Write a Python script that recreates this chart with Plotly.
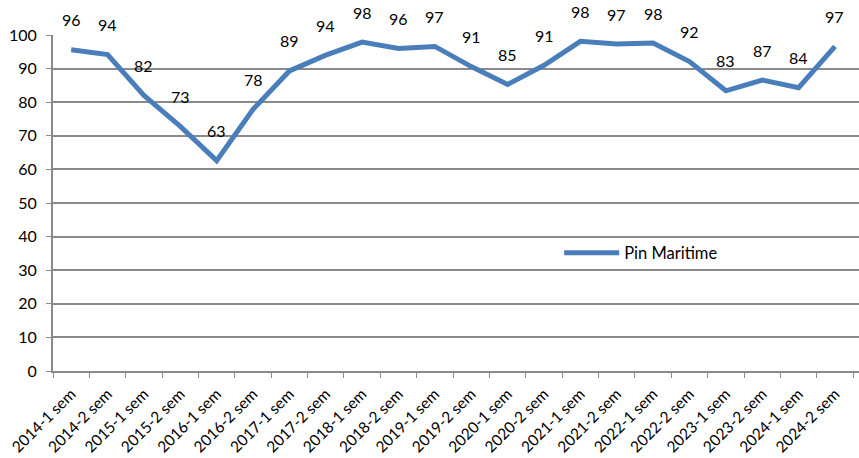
import plotly.graph_objects as go

periods = ['2014-1 sem', '2014-2 sem', '2015-1 sem', '2015-2 sem', '2016-1 sem', '2016-2 sem',
           '2017-1 sem', '2017-2 sem', '2018-1 sem', '2018-2 sem', '2019-1 sem', '2019-2 sem',
           '2020-1 sem', '2020-2 sem', '2021-1 sem', '2021-2 sem', '2022-1 sem', '2022-2 sem',
           '2023-1 sem', '2023-2 sem', '2024-1 sem', '2024-2 sem']
pin_maritime = [95.6, 94.2, 82.0, 72.8, 62.6, 77.9, 89.3, 94.0, 97.9, 96.0, 96.6, 90.6,
                85.3, 91.0, 98.1, 97.3, 97.6, 92.1, 83.4, 86.6, 84.3, 96.6]
labels = [str(int(round(v))) for v in pin_maritime]

font_family = 'Lato, Noto Sans, sans-serif'
grid_col = '#8a8a8a'

fig = go.Figure()
fig.add_trace(go.Scatter(x=periods, y=pin_maritime, mode='lines', name='Pin Maritime',
                         line=dict(color='#4a7ebb', width=5)))

# data labels sitting above each point
for p, v, t in zip(periods, pin_maritime, labels):
    fig.add_annotation(x=p, y=v, text=t, showarrow=False, yshift=30,
                       font=dict(size=16, color='black', family=font_family))

fig.update_layout(
    width=859, height=458,
    margin=dict(l=53, r=0, t=35, b=87, autoexpand=False),
    plot_bgcolor='white', paper_bgcolor='white',
    font=dict(family=font_family, size=15, color='black'),
    showlegend=True,
    legend=dict(x=0.628, y=0.351, xanchor='left', yanchor='middle', bgcolor='rgba(0,0,0,0)',
                itemwidth=55, font=dict(size=16.5)),
)
# plot area runs slightly past the right edge in the original
fig.update_xaxes(type='category', range=[-0.5, 21.66], tickson='boundaries', ticks='outside',
                 ticklen=5, tickcolor=grid_col, tickangle=-45, showline=True, linecolor=grid_col,
                 linewidth=2, showgrid=False, tickfont=dict(size=15.5), ticklabelstandoff=6,
                 automargin=False)
fig.update_yaxes(range=[0, 100], dtick=10, ticks='outside', ticklen=5, tickcolor=grid_col,
                 showline=True, linecolor=grid_col, linewidth=2, showgrid=True, gridcolor=grid_col,
                 gridwidth=1.5, zeroline=False, tickfont=dict(size=16), ticklabelstandoff=6,
                 automargin=False)

fig.write_html("out.html", config={'displayModeBar': False},
               post_script="document.body.style.margin='0';")
